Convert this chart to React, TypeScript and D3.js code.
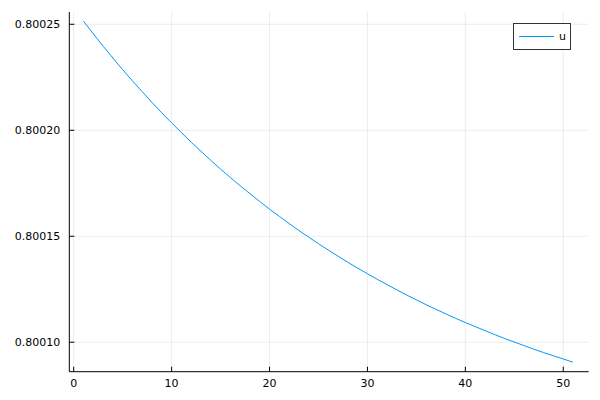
import React from 'react';
import * as d3 from 'd3';

// u values at t = 1..51
const steps = d3.range(1, 52);
const uValues = [
  0.8002515, 0.8002455, 0.8002397, 0.8002341, 0.8002286, 0.8002233, 0.8002182, 0.8002131,
  0.8002082, 0.8002035, 0.8001989, 0.8001944, 0.8001901, 0.8001858, 0.8001817, 0.8001777,
  0.8001738, 0.8001701, 0.8001664, 0.8001628, 0.8001594, 0.800156, 0.8001527, 0.8001496,
  0.8001465, 0.8001435, 0.8001406, 0.8001377, 0.800135, 0.8001323, 0.8001297, 0.8001272,
  0.8001247, 0.8001223, 0.80012, 0.8001177, 0.8001155, 0.8001134, 0.8001113, 0.8001093,
  0.8001074, 0.8001055, 0.8001036, 0.8001018, 0.8001001, 0.8000984, 0.8000967, 0.8000951,
  0.8000936, 0.8000921, 0.8000906,
];
const xTicks = [0, 10, 20, 30, 40, 50];
const yTicks = [0.8001, 0.80015, 0.8002, 0.80025];
const xLimits = [-0.45, 52.6];
const yLimits = [0.8000861, 0.8002558];
const seriesName = 'u';

const W = 600;
const H = 400;
const plot = { left: 69.3, right: 588.7, top: 12, bottom: 371.7 };
const font = "'DejaVu Sans', sans-serif";
const lineColor = '#009af9';

export default function App() {
  const x = d3.scaleLinear().domain(xLimits).range([plot.left, plot.right]);
  const y = d3.scaleLinear().domain(yLimits).range([plot.bottom, plot.top]);

  const line = d3.line<number>()
    .x((d, i) => x(steps[i]))
    .y(d => y(d));

  return (
    <div style={{ position: 'absolute', left: 0, top: 0 }}>
      <svg width={W} height={H} style={{ display: 'block', background: '#fff' }}>
        {/* grid */}
        <g stroke="#000" strokeOpacity={0.075} strokeWidth={1}>
          {xTicks.map(t => (
            <line key={'gx' + t} x1={x(t)} x2={x(t)} y1={plot.top} y2={plot.bottom} />
          ))}
          {yTicks.map(t => (
            <line key={'gy' + t} x1={plot.left} x2={plot.right} y1={y(t)} y2={y(t)} />
          ))}
        </g>

        {/* axes */}
        <g stroke="#000" strokeWidth={1}>
          <line x1={plot.left} x2={plot.right} y1={plot.bottom} y2={plot.bottom} />
          <line x1={plot.left} x2={plot.left} y1={plot.top} y2={plot.bottom} />
          {xTicks.map(t => (
            <line key={'tx' + t} x1={x(t)} x2={x(t)} y1={plot.bottom} y2={plot.bottom - 5} />
          ))}
          {yTicks.map(t => (
            <line key={'ty' + t} x1={plot.left} x2={plot.left + 5} y1={y(t)} y2={y(t)} />
          ))}
        </g>

        <g fontFamily={font} fontSize={11} fill="#000">
          {xTicks.map(t => (
            <text key={'lx' + t} x={x(t)} y={plot.bottom + 15.5} textAnchor="middle">{t}</text>
          ))}
          {yTicks.map(t => (
            <text key={'ly' + t} x={plot.left - 9} y={y(t)} dy="0.35em" textAnchor="end">
              {t.toFixed(5)}
            </text>
          ))}
        </g>

        <path d={line(uValues) ?? ''} fill="none" stroke={lineColor} strokeWidth={1} />

        {/* legend */}
        <g>
          <rect x={513.5} y={23.5} width={57} height={26} fill="#fff" stroke="#333" strokeWidth={1} />
          <line x1={519} x2={554} y1={36.5} y2={36.5} stroke={lineColor} strokeWidth={1} />
          <text x={559} y={36.5} dy="0.35em" fontFamily={font} fontSize={11} fill="#000">{seriesName}</text>
        </g>
      </svg>
    </div>
  );
}
